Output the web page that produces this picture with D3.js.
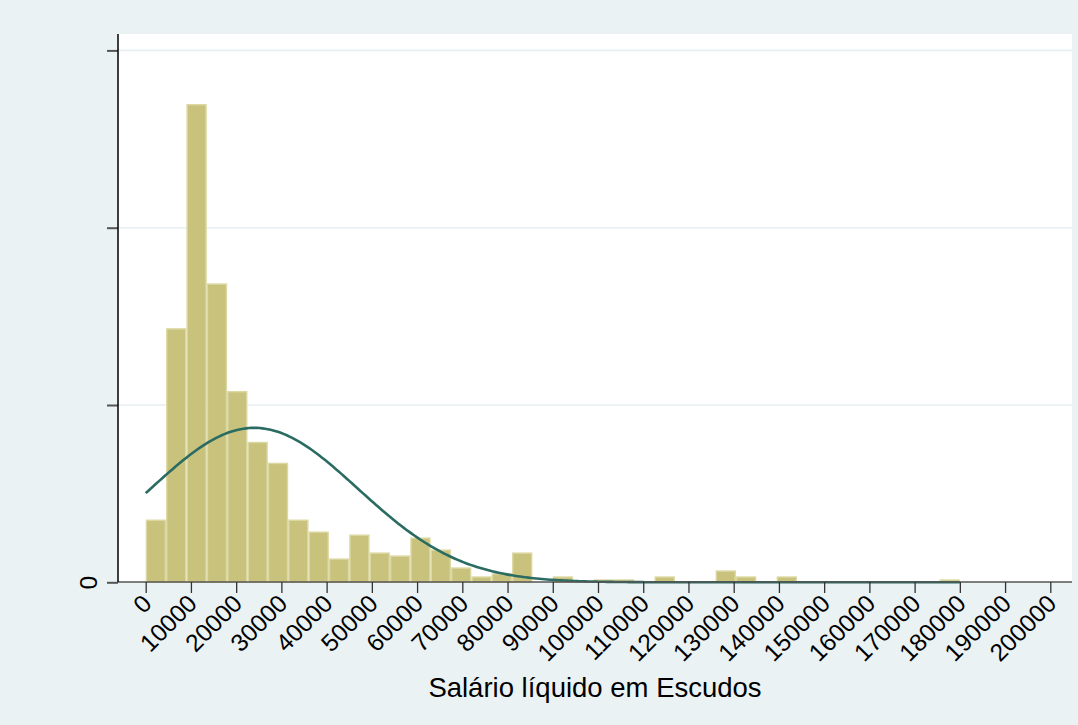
<!DOCTYPE html>
<html>
<head>
<meta charset="utf-8">
<script src="https://cdn.jsdelivr.net/npm/d3@7"></script>
<style>
  html, body { margin: 0; padding: 0; background: #eaf2f3; }
  svg { display: block; }
</style>
</head>
<body>
<svg id="chart" width="1078" height="725"></svg>
<script>
// Histogram of net salary (escudos), 40 bins of 4500 from 0, counts per bin
const binStart = 0;
const binWidth = 4500;
const binCounts = [21, 85, 160, 100, 64, 47, 40, 21, 17, 8,
                   16, 10, 9, 15, 11, 5, 2, 3, 10, 0,
                   2, 0, 1, 1, 0, 2, 0, 0, 4, 2,
                   0, 2, 0, 0, 0, 0, 0, 0, 0, 1];
// Normal density overlay parameters
const normMean = 24000;
const normSd = 22900;
const dataMin = 0;
const dataMax = 180000;
// Axis ticks
const xTicks = d3.range(0, 200001, 10000);
const yTicks = [0, 0.00002, 0.00004, 0.00006];
const xTitle = "Salário líquido em Escudos";

const svg = d3.select("#chart");
const W = 1078, H = 725;
const plot = { left: 118, right: 1072, top: 34, bottom: 582 };
const font = "Liberation Sans, Arial, Helvetica, sans-serif";

const x = d3.scaleLinear().domain([0, 200000]).range([145.7, 1050.3]);
const y = d3.scaleLinear().domain([0, 0.00006]).range([582.3, 50.4]);

const N = d3.sum(binCounts);
const bins = binCounts.map((c, i) => ({
  x0: binStart + i * binWidth,
  x1: binStart + (i + 1) * binWidth,
  density: c / (N * binWidth)
}));

// Background
svg.append("rect").attr("width", W).attr("height", H).attr("fill", "#eaf2f3");
svg.append("rect")
  .attr("x", plot.left).attr("y", plot.top)
  .attr("width", plot.right - plot.left).attr("height", plot.bottom - plot.top)
  .attr("fill", "#ffffff");

// Grid lines
svg.append("g").selectAll("line")
  .data(yTicks.filter(d => d > 0))
  .join("line")
  .attr("x1", plot.left).attr("x2", plot.right)
  .attr("y1", d => y(d)).attr("y2", d => y(d))
  .attr("stroke", "#e6eff1").attr("stroke-width", 1.6);

// Bars
svg.append("g").selectAll("rect")
  .data(bins.filter(b => b.density > 0))
  .join("rect")
  .attr("x", b => x(b.x0) + 0.7)
  .attr("width", b => x(b.x1) - x(b.x0) - 1.4)
  .attr("y", b => y(b.density) + 0.7)
  .attr("height", b => y(0) - y(b.density) - 0.7)
  .attr("fill", "#c8c27c")
  .attr("stroke", "#dcd8a3")
  .attr("stroke-width", 1.4);

// Normal density curve
const normPdf = v => Math.exp(-0.5 * ((v - normMean) / normSd) ** 2) / (normSd * Math.sqrt(2 * Math.PI));
const curvePts = d3.range(0, 301).map(i => dataMin + (dataMax - dataMin) * i / 300);
svg.append("path")
  .datum(curvePts)
  .attr("fill", "none")
  .attr("stroke", "#2a6b62")
  .attr("stroke-width", 2.6)
  .attr("d", d3.line().x(v => x(v)).y(v => y(normPdf(v))));

// X axis
const xAxis = svg.append("g").attr("transform", `translate(0,${plot.bottom})`);
xAxis.append("line")
  .attr("x1", plot.left).attr("x2", plot.right)
  .attr("y1", 0).attr("y2", 0)
  .attr("stroke", "#555555").attr("stroke-width", 1.5);
xAxis.call(g => {
  const ax = d3.axisBottom(x).tickValues(xTicks).tickSize(11).tickFormat(d3.format("d"));
  g.call(ax);
  g.select(".domain").remove();
  g.selectAll(".tick line").attr("stroke", "#333").attr("stroke-width", 1.3);
  g.selectAll(".tick text")
    .attr("font-family", font)
    .attr("font-size", 24.5)
    .attr("fill", "#000")
    .attr("text-anchor", "end")
    .attr("dy", 0)
    .attr("transform", "translate(7,23) rotate(-45)")
    .attr("y", 0).attr("x", 0);
});

// Y axis
const yAxis = svg.append("g").attr("transform", `translate(${plot.left},0)`);
yAxis.call(g => {
  const ax = d3.axisLeft(y).tickValues(yTicks).tickSize(11)
    .tickFormat(d => d === 0 ? "0" : "");
  g.call(ax);
  g.select(".domain").remove();
  g.selectAll(".tick line").attr("stroke", "#555").attr("stroke-width", 2);
  g.selectAll(".tick text")
    .attr("font-family", font)
    .attr("font-size", 24.5)
    .attr("fill", "#000")
    .attr("text-anchor", "middle")
    .attr("x", 0).attr("dy", 0)
    .attr("transform", "translate(-21,0) rotate(-90)");
});
yAxis.append("line")
  .attr("x1", 0).attr("x2", 0)
  .attr("y1", plot.top).attr("y2", plot.bottom)
  .attr("stroke", "#000").attr("stroke-width", 1.5);

// Axis title
svg.append("text")
  .attr("x", (plot.left + plot.right) / 2)
  .attr("y", 697)
  .attr("text-anchor", "middle")
  .attr("font-family", font)
  .attr("font-size", 27.5)
  .attr("fill", "#000")
  .text(xTitle);
</script>
</body>
</html>
